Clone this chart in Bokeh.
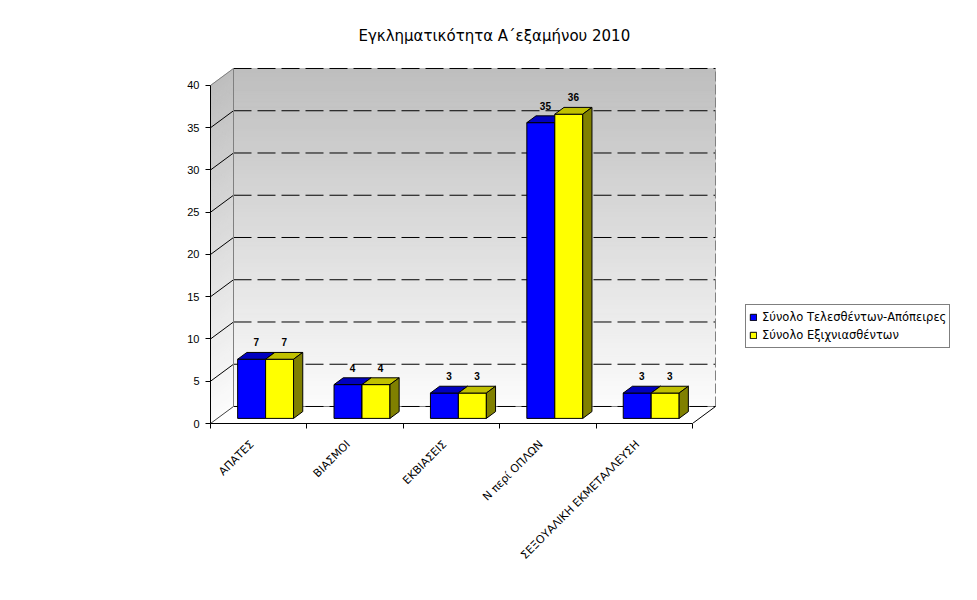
import numpy as np
from math import pi
from bokeh.plotting import figure
from bokeh.models import FixedTicker, Legend, LegendItem, Range1d
from bokeh.core.properties import value
from bokeh.embed import file_html
from bokeh.resources import INLINE

# ---- data ----
title_text = "Εγκληματικότητα Α΄εξαμήνου 2010"
categories = ["ΑΠΑΤΕΣ", "ΒΙΑΣΜΟΙ", "ΕΚΒΙΑΣΕΙΣ", "Ν περί ΟΠΛΩΝ", "ΣΕΞΟΥΑΛΙΚΗ ΕΚΜΕΤΑΛΛΕΥΣΗ"]
series_names = ["Σύνολο Τελεσθέντων-Απόπειρες", "Σύνολο Εξιχνιασθέντων"]
committed = [7, 4, 3, 35, 3]
solved = [7, 4, 3, 36, 3]
y_ticks = [0, 5, 10, 15, 20, 25, 30, 35, 40]

series_values = [committed, solved]
front_colors = ["#0000FF", "#FFFF00"]
top_colors = ["#0000C0", "#C0C000"]
side_colors = ["#000080", "#808000"]

FONT = "Liberation Sans"
WIDE = "DejaVu Sans"
N = len(categories)
YMAX = y_ticks[-1]

# 3D depth offset in data units
DX = 0.2386
DY = 2.012
F0, F1 = 0.3, 0.7     # depth fractions of the bars
BW = 0.29             # width of one bar (category units)
LABEL_SHIFT = -0.07   # category label anchor shift

p = figure(frame_width=506, frame_height=356, width=977, height=600,
           min_border_left=210, min_border_right=261, min_border_top=67, min_border_bottom=177,
           x_range=Range1d(0, N + DX + 0.0104), y_range=Range1d(0, YMAX + DY + 0.118),
           output_backend="svg", toolbar_location=None)
p.background_fill_color = "white"
p.border_fill_color = "white"
p.outline_line_color = None
p.xgrid.visible = False
p.ygrid.visible = False

# ---- walls with gradient ----
NB = 80
for k in range(NB):
    a = YMAX * k / NB
    b = YMAX * (k + 1) / NB
    t = (k + 0.5) / NB
    g = int(round(252 - (252 - 190) * t))
    col = "#%02x%02x%02x" % (g, g, g)
    p.quad(left=DX, right=N + DX, bottom=a + DY, top=b + DY, fill_color=col, line_color=col, line_width=1)
    p.patch([0, DX, DX, 0], [a, a + DY, b + DY, b], fill_color=col, line_color=col, line_width=1)

# floor
p.patch([0, N, N + DX, DX], [0, 0, DY, DY], fill_color="white", line_color=None)

# back gridlines
gx0 = [DX] * len(y_ticks)
gx1 = [N + DX] * len(y_ticks)
gy = [v + DY for v in y_ticks]
p.segment(x0=[DX], y0=[DY], x1=[N + DX], y1=[DY], line_color="#808080", line_width=1)
p.segment(x0=gx0, y0=gy, x1=gx1, y1=gy, line_color="black", line_width=1, line_dash="18 6")
# side-wall gridlines
inner = y_ticks[1:-1]
p.segment(x0=[0] * len(inner), y0=inner, x1=[DX] * len(inner), y1=[v + DY for v in inner],
          line_color="black", line_width=1)
p.segment(x0=[0], y0=[YMAX], x1=[DX], y1=[YMAX + DY], line_color="#808080", line_width=1)
p.segment(x0=[0], y0=[0], x1=[DX], y1=[DY], line_color="#404040", line_width=1)
# wall edges
p.segment(x0=[DX], y0=[DY], x1=[DX], y1=[YMAX + DY], line_color="#808080", line_width=1)
p.segment(x0=[N + DX], y0=[DY], x1=[N + DX], y1=[YMAX + DY], line_color="#808080", line_width=1, line_dash="10 3")
p.segment(x0=[N], y0=[0], x1=[N + DX], y1=[DY], line_color="black", line_width=1)

# ---- bars ----
front_renderers = []
for s, vals in enumerate(series_values):
    fx, fy, tx, ty, sx, sy = [], [], [], [], [], []
    lx, ly = [], []
    for i, v in enumerate(vals):
        x0 = i + 0.5 - BW + s * BW
        x1 = x0 + BW
        ox0, oy0 = F0 * DX, F0 * DY
        ox1, oy1 = F1 * DX, F1 * DY
        fx.append([x0 + ox0, x1 + ox0, x1 + ox0, x0 + ox0])
        fy.append([oy0, oy0, v + oy0, v + oy0])
        tx.append([x0 + ox0, x1 + ox0, x1 + ox1, x0 + ox1])
        ty.append([v + oy0, v + oy0, v + oy1, v + oy1])
        sx.append([x1 + ox0, x1 + ox1, x1 + ox1, x1 + ox0])
        sy.append([oy0, oy1, v + oy1, v + oy0])
        lx.append((x0 + x1) / 2 + 0.5 * DX)
        ly.append(v + oy1)
    r = p.patches(fx, fy, fill_color=front_colors[s], line_color="black", line_width=1)
    p.patches(tx, ty, fill_color=top_colors[s], line_color="black", line_width=1)
    p.patches(sx, sy, fill_color=side_colors[s], line_color="black", line_width=1)
    front_renderers.append(r)
    p.text(x=lx, y=ly, text=[str(v) for v in vals], text_font=value(FONT), text_font_size="10px",
           text_font_style="bold", text_align="center", text_baseline="bottom", y_offset=-6,
           text_color="black")

# ---- axes ----
yax = p.yaxis[0]
yax.ticker = FixedTicker(ticks=y_ticks)
yax.bounds = (0, YMAX)
yax.major_tick_out = 5
yax.major_tick_in = 0
yax.minor_tick_line_color = None
yax.major_label_standoff = 6
yax.major_label_text_font = FONT
yax.major_label_text_font_size = "11px"
yax.major_label_text_color = "black"
yax.axis_line_color = "black"
yax.major_tick_line_color = "black"

xax = p.xaxis[0]
label_pos = [i + 0.5 + LABEL_SHIFT for i in range(N)]
xax.ticker = FixedTicker(ticks=label_pos, minor_ticks=list(range(N + 1)))
xax.major_label_overrides = {pos: c for pos, c in zip(label_pos, categories)}
xax.bounds = (0, N)
xax.major_tick_line_color = None
xax.major_tick_out = 0
xax.major_tick_in = 0
xax.minor_tick_out = 5
xax.minor_tick_in = 0
xax.minor_tick_line_color = "black"
xax.major_label_orientation = pi / 4
xax.major_label_standoff = 14
xax.major_label_text_font = WIDE
xax.major_label_text_font_size = "11px"
xax.major_label_text_color = "black"
xax.axis_line_color = "black"

# ---- title ----
p.title.text = title_text
p.title.text_font = WIDE
p.title.text_font_size = "15px"
p.title.text_font_style = "normal"
p.title.text_color = "black"
p.title.align = "left"
p.title.offset = 148
p.title.standoff = 46

# ---- legend ----
legend = Legend(items=[LegendItem(label=series_names[k], renderers=[front_renderers[k]]) for k in range(2)],
                location=(29, 75), orientation="vertical",
                border_line_color="black", border_line_width=1, background_fill_color="white",
                background_fill_alpha=1.0, label_text_font=WIDE, label_text_font_size="11.5px",
                label_text_color="black",
                glyph_width=8, glyph_height=8, label_height=18, label_standoff=5,
                padding=3, spacing=0, margin=0)
p.add_layout(legend, "right")

open("out.html", "w").write(file_html(p, INLINE))
